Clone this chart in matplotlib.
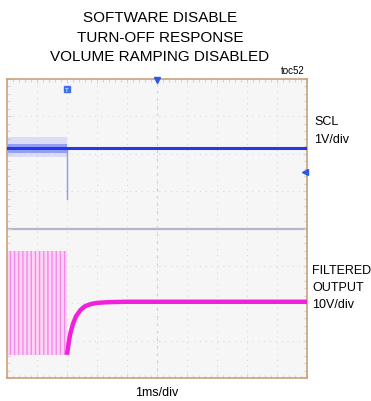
#%% LIBRARIES
import matplotlib
matplotlib.use('Agg')
import matplotlib.pyplot as plt

#%% DATA (time in divisions, amplitude in divisions)

# SCL trace
scl_t = [0.0, 10.0]
scl_v = [2.15, 2.15]
spike_t = [2.0, 2.0]
spike_v = [2.15, 0.8]
scl_noise_t = [0.0, 2.0]
scl_noise_hi = [2.45, 2.45]
scl_noise_lo = [1.90, 1.90]
scl_core_hi = [2.27, 2.27]
scl_core_lo = [2.03, 2.03]

# filtered output: switching burst then settling
burst_t = [0.0, 2.0]
burst_hi = [-0.6, -0.6]
burst_lo = [-3.38, -3.38]
out_t = [2.0, 2.05, 2.1, 2.2, 2.3, 2.45, 2.6, 2.8, 3.0, 3.4, 4.0, 10.0]
out_v = [-3.38, -3.1, -2.85, -2.55, -2.35, -2.18, -2.08, -2.02, -1.99, -1.97, -1.96, -1.96]

title_lines = ['SOFTWARE DISABLE', 'TURN-OFF RESPONSE', 'VOLUME RAMPING DISABLED']

#%% FONT
plt.rcParams['font.family'] = ['Liberation Sans', 'DejaVu Sans']

#%% PLOT
fig = plt.figure(figsize=(3.71, 4.02), dpi=100)
ax = fig.add_axes([7/371, 23/402, 300/371, 299/402])
ax.set_facecolor('#f6f6f6')
ax.set_xlim(0, 10)
ax.set_ylim(-4, 4)

# graticule (faint dotted)
for x in range(1, 10):
    ax.axvline(x, color='#d6d6d6', lw=0.7, ls=(0, (1, 5)), zorder=1)
for y in range(-3, 4):
    ax.axhline(y, color='#d6d6d6', lw=0.7, ls=(0, (1, 5)), zorder=1)
ax.axhline(0, color='#b4b6cc', lw=1.6, zorder=1)
ax.axvline(5, color='#d0d2e0', lw=0.9, ls=(0, (2, 4)), zorder=1)

ax.xaxis.set_major_locator(plt.MultipleLocator(1))
ax.yaxis.set_major_locator(plt.MultipleLocator(1))
ax.xaxis.set_minor_locator(plt.MultipleLocator(0.2))
ax.yaxis.set_minor_locator(plt.MultipleLocator(0.2))
ax.tick_params(which='both', direction='in', colors='#d4d4d4', labelbottom=False, labelleft=False,
               top=True, right=True, length=3, width=0.8)
ax.tick_params(which='minor', length=2)
for s in ax.spines.values():
    s.set_color('#c9a27a')
    s.set_linewidth(1.2)

# SCL
ax.fill_between(scl_noise_t, scl_noise_lo, scl_noise_hi, color='#9aa6f4', alpha=0.3, lw=0, zorder=2)
ax.fill_between(scl_noise_t, scl_core_lo, scl_core_hi, color='#5a6cf0', alpha=0.55, lw=0, zorder=2)
ax.plot(spike_t, spike_v, color='#6478f0', lw=1.0, alpha=0.7, zorder=3)
ax.plot(scl_t, scl_v, color='#2438e8', lw=2.2, zorder=3)

# filtered output
ax.fill_between(burst_t, burst_lo, burst_hi, facecolor='#fcd4f6', edgecolor='#f48ae6',
                hatch='||||', lw=0, zorder=2)
ax.plot(out_t, out_v, color='#f020dc', lw=3.2, zorder=3, solid_capstyle='butt')

# markers
ax.plot([2.0], [3.72], marker='s', ms=5, color='#3d6ff0', clip_on=False, zorder=4)
ax.text(2.0, 3.72, 'T', color='white', fontsize=4.5, ha='center', va='center', zorder=5)
ax.plot([5.0], [3.97], marker='v', ms=5, color='#2a5ae8', clip_on=False, zorder=4)
ax.plot([9.93], [1.51], marker='<', ms=4, color='#2a5ae8', clip_on=False, zorder=4)

#%% TEXT
for i, line in enumerate(title_lines):
    fig.text(160/371, 1 - (18 + i*19.5)/402, line, ha='center', va='center', fontsize=11)
fig.text(305/371, 1 - 71/402, 'toc52', ha='right', va='center', fontsize=7)
fig.text(314/371, 1 - 122/402, 'SCL', ha='left', va='center', fontsize=9)
fig.text(314/371, 1 - 140/402, '1V/div', ha='left', va='center', fontsize=9)
fig.text(312/371, 1 - 271/402, 'FILTERED', ha='left', va='center', fontsize=9)
fig.text(312/371, 1 - 288/402, 'OUTPUT', ha='left', va='center', fontsize=9)
fig.text(312/371, 1 - 305/402, '10V/div', ha='left', va='center', fontsize=9)
fig.text(157/371, 1 - 393/402, '1ms/div', ha='center', va='center', fontsize=9)

fig.savefig('out.png', dpi=100)
